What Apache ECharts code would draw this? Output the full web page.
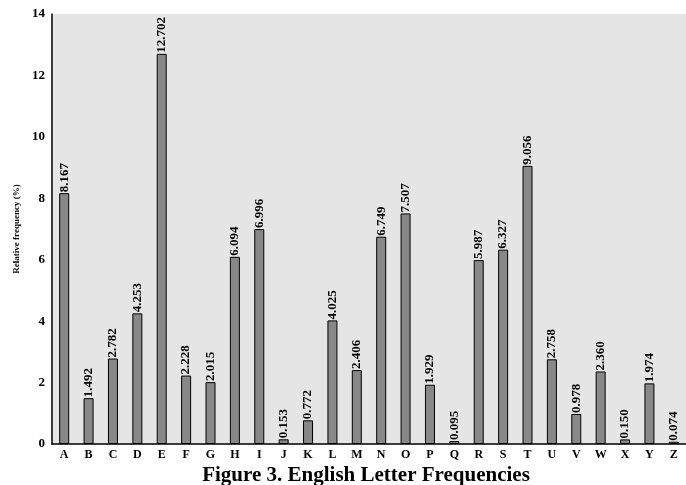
<!DOCTYPE html>
<html><head><meta charset="utf-8">
<script src="https://cdn.jsdelivr.net/npm/echarts@6/dist/echarts.min.js"></script>
<style>html,body{margin:0;padding:0;background:#fff}#c{width:686px;height:485px}</style>
</head><body><div id="c"></div>
<script>
var letters = ['A','B','C','D','E','F','G','H','I','J','K','L','M','N','O','P','Q','R','S','T','U','V','W','X','Y','Z'];
var freqs = [8.167,1.492,2.782,4.253,12.702,2.228,2.015,6.094,6.996,0.153,0.772,4.025,2.406,6.749,7.507,1.929,0.095,5.987,6.327,9.056,2.758,0.978,2.360,0.150,1.974,0.074];
var yTicks = [0,2,4,6,8,10,12,14];
var chart = echarts.init(document.getElementById('c'));
var serif = '"Liberation Serif","Times New Roman",serif';
chart.setOption({
  animation:false,
  title:{text:'Figure 3. English Letter Frequencies',left:361,top:460,textAlign:'center',
    textStyle:{fontFamily:serif,fontWeight:'bold',fontSize:21,color:'#000'}},
  grid:{left:52,right:0,top:14,bottom:41,show:true,backgroundColor:'#e5e5e5',borderWidth:0},
  xAxis:{type:'category',data:letters,
    axisLine:{lineStyle:{color:'#000',width:1.5}},axisTick:{show:false},
    axisLabel:{fontFamily:serif,fontWeight:'bold',fontSize:12,color:'#000',margin:5,interval:0}},
  yAxis:{type:'value',min:yTicks[0],max:yTicks[yTicks.length-1],interval:2,
    name:'Relative frequency (%)',nameLocation:'middle',nameGap:31,
    nameTextStyle:{fontFamily:serif,fontWeight:'bold',fontSize:9,color:'#000'},
    axisLine:{show:true,lineStyle:{color:'#000',width:1.5}},axisTick:{show:false},splitLine:{show:false},
    axisLabel:{fontFamily:serif,fontWeight:'bold',fontSize:13,color:'#000',margin:7}},
  series:[{type:'bar',data:freqs,barWidth:10,
    itemStyle:{color:'#888888',borderColor:'#000',borderWidth:1},
    label:{show:true,position:'top',rotate:90,align:'left',verticalAlign:'middle',distance:1,
      fontFamily:serif,fontWeight:'bold',fontSize:13,color:'#000',
      formatter:function(p){return p.value.toFixed(3);}}}]
});
</script></body></html>
